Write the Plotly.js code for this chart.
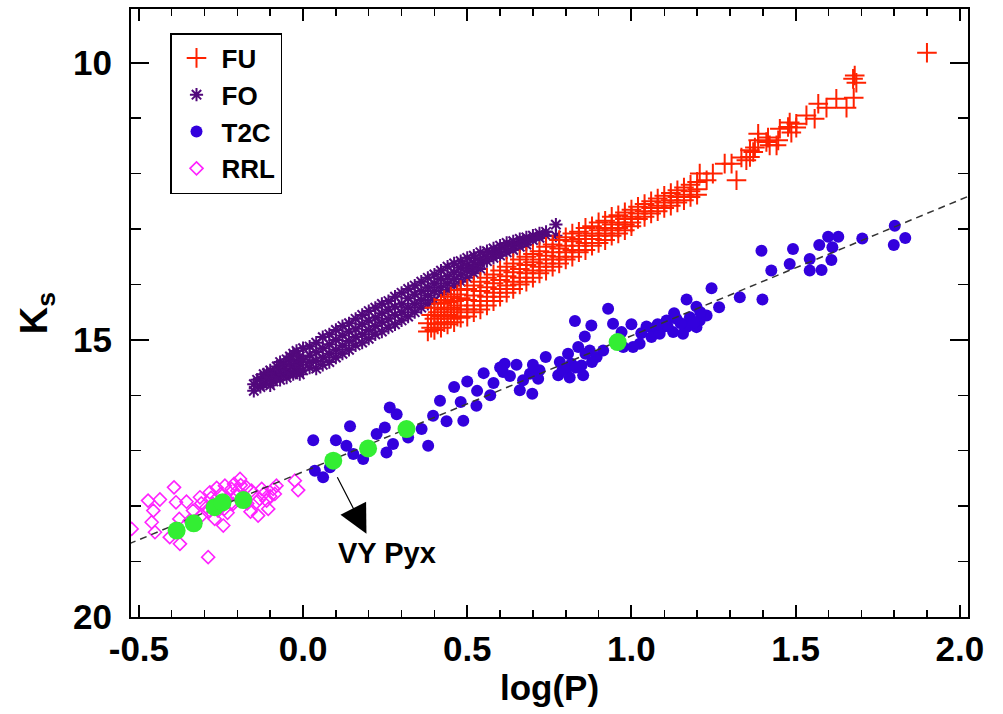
<!DOCTYPE html>
<html>
<head>
<meta charset="utf-8">
<script src="https://cdn.plot.ly/plotly-3.0.1.min.js"></script>
<style>html,body{margin:0;padding:0;background:#fff;}#chart{width:1003px;height:714px;}</style>
</head>
<body>
<div id="chart"></div>
<script>
// ---- FU (fundamental-mode classical Cepheids): [logP, Ks]
const fuPoints = [
[0.38,14.70],[0.38,14.85],[0.39,14.55],[0.39,14.78],[0.40,14.42],[0.40,14.62],[0.40,14.82],
[0.41,14.50],[0.41,14.72],[0.42,14.35],[0.42,14.58],[0.42,14.78],[0.43,14.45],[0.43,14.68],[0.43,14.28],
[0.44,14.55],[0.44,14.32],[0.44,14.72],[0.45,14.22],[0.45,14.42],[0.45,14.62],[0.46,14.50],[0.46,14.30],[0.46,14.68],
[0.47,14.18],[0.47,14.38],[0.47,14.58],[0.48,14.45],[0.48,14.25],[0.48,14.60],[0.48,14.10],
[0.50,14.08],[0.50,14.28],[0.50,14.45],[0.50,14.58],[0.52,14.02],[0.52,14.20],[0.52,14.38],[0.52,14.50],
[0.54,14.12],[0.54,13.95],[0.54,14.30],[0.54,14.45],[0.56,13.88],[0.56,14.05],[0.56,14.22],[0.56,14.38],
[0.58,13.98],[0.58,13.82],[0.58,14.15],[0.58,14.30],[0.60,13.75],[0.60,13.92],[0.60,14.08],[0.60,14.22],
[0.62,13.85],[0.62,13.68],[0.62,14.02],[0.62,14.15],[0.64,13.62],[0.64,13.78],[0.64,13.95],[0.64,14.08],
[0.66,13.72],[0.66,13.55],[0.66,13.88],[0.66,14.00],[0.68,13.50],[0.68,13.65],[0.68,13.80],[0.68,13.95],
[0.70,13.60],[0.70,13.45],[0.70,13.75],[0.70,13.88],[0.72,13.40],[0.72,13.55],[0.72,13.68],[0.72,13.80],
[0.74,13.48],[0.74,13.32],[0.74,13.62],[0.74,13.75],[0.76,13.28],[0.76,13.42],[0.76,13.55],[0.76,13.68],
[0.78,13.35],[0.78,13.20],[0.78,13.50],[0.78,13.62],[0.80,13.15],[0.80,13.30],[0.80,13.42],[0.80,13.55],
[0.82,13.22],[0.82,13.08],[0.82,13.38],[0.82,13.50],[0.84,13.05],[0.84,13.18],[0.84,13.30],[0.84,13.42],
[0.86,13.12],[0.86,12.98],[0.86,13.25],[0.86,13.38],[0.88,12.95],[0.88,13.08],[0.88,13.18],[0.88,13.30],
[0.90,13.02],[0.90,12.88],[0.90,13.12],[0.90,13.25],[0.92,12.85],[0.92,12.98],[0.92,13.08],[0.92,13.20],
[0.94,12.92],[0.94,12.78],[0.94,13.02],[0.94,13.12],[0.96,12.75],[0.96,12.88],[0.96,12.98],[0.96,13.08],
[0.98,12.82],[0.98,12.70],[0.98,12.92],[0.98,13.02],[1.00,12.65],[1.00,12.78],[1.00,12.88],[1.00,12.95],
[1.02,12.72],[1.02,12.60],[1.02,12.82],[1.04,12.55],[1.04,12.68],[1.04,12.78],[1.06,12.62],[1.06,12.50],[1.06,12.72],
[1.08,12.45],[1.08,12.58],[1.08,12.68],[1.10,12.52],[1.10,12.40],[1.10,12.62],[1.12,12.35],[1.12,12.48],[1.12,12.58],
[1.14,12.42],[1.14,12.30],[1.14,12.52],[1.16,12.25],[1.16,12.38],[1.16,12.48],[1.18,12.32],[1.18,12.20],[1.18,12.42],
[1.20,12.15],[1.20,12.28],[1.20,12.38],
[1.208,12.00],[1.229,12.12],[1.248,12.00],[1.284,11.82],[1.305,11.82],[1.320,12.12],[1.335,11.71],[1.350,11.76],
[1.361,11.58],[1.376,11.53],[1.386,11.28],[1.386,11.40],[1.416,11.35],[1.421,11.49],[1.447,11.40],[1.452,11.19],
[1.482,11.08],[1.487,11.26],[1.502,11.17],[1.533,10.95],[1.558,11.01],[1.569,10.74],[1.594,10.81],[1.624,10.65],
[1.655,10.81],[1.677,10.63],[1.675,10.29],[1.685,10.36],[1.680,10.23],[1.371,11.61],[1.361,11.70],[1.411,11.43],
[1.442,11.49],[1.477,11.16],[1.502,11.10],[1.900,9.82]
];
// ---- FO (first-overtone classical Cepheids)
const foPoints = [
[-0.15,15.80],[-0.15,15.92],[-0.14,15.72],[-0.13,15.85],[-0.13,15.70],[-0.12,15.62],[-0.12,15.80],[-0.11,15.72],[-0.11,15.60],
[-0.10,15.55],[-0.10,15.82],[-0.10,15.68],[-0.09,15.60],[-0.09,15.75],[-0.08,15.48],[-0.08,15.66],
[-0.07,15.55],[-0.07,15.72],[-0.07,15.40],[-0.06,15.45],[-0.06,15.62],[-0.05,15.35],[-0.05,15.55],[-0.05,15.68],
[-0.04,15.42],[-0.04,15.60],[-0.04,15.30],[-0.03,15.48],[-0.03,15.25],[-0.03,15.62],[-0.02,15.38],[-0.02,15.55],[-0.02,15.20],
[-0.01,15.30],[-0.01,15.45],[-0.01,15.62],[0.00,15.15],[0.00,15.36],[0.00,15.55],
[0.02,15.28],[0.02,15.12],[0.02,15.50],[0.02,15.40],[0.04,15.05],[0.04,15.22],[0.04,15.38],[0.04,15.52],
[0.06,15.15],[0.06,14.95],[0.06,15.32],[0.06,15.45],[0.08,14.90],[0.08,15.08],[0.08,15.25],[0.08,15.40],
[0.10,15.00],[0.10,14.82],[0.10,15.18],[0.10,15.32],[0.12,14.75],[0.12,14.92],[0.12,15.10],[0.12,15.25],
[0.14,14.85],[0.14,14.70],[0.14,15.02],[0.14,15.18],[0.16,14.62],[0.16,14.80],[0.16,14.95],[0.16,15.10],
[0.18,14.72],[0.18,14.55],[0.18,14.90],[0.18,15.05],[0.20,14.48],[0.20,14.65],[0.20,14.82],[0.20,14.98],
[0.22,14.60],[0.22,14.42],[0.22,14.75],[0.22,14.90],[0.24,14.35],[0.24,14.52],[0.24,14.68],[0.24,14.85],
[0.26,14.45],[0.26,14.30],[0.26,14.62],[0.26,14.78],[0.28,14.22],[0.28,14.40],[0.28,14.55],[0.28,14.72],
[0.30,14.35],[0.30,14.15],[0.30,14.50],[0.30,14.65],[0.32,14.08],[0.32,14.25],[0.32,14.42],[0.32,14.58],
[0.34,14.18],[0.34,14.02],[0.34,14.35],[0.34,14.50],[0.36,13.95],[0.36,14.12],[0.36,14.28],[0.36,14.42],
[0.38,14.05],[0.38,13.88],[0.38,14.20],[0.38,14.35],[0.40,13.82],[0.40,13.98],[0.40,14.12],[0.40,14.28],
[0.42,13.90],[0.42,13.75],[0.42,14.05],[0.42,14.18],[0.44,13.68],[0.44,13.85],[0.44,13.98],[0.44,14.10],
[0.46,13.78],[0.46,13.62],[0.46,13.90],[0.46,14.02],[0.48,13.58],[0.48,13.70],[0.48,13.82],[0.48,13.95],
[0.50,13.65],[0.50,13.52],[0.50,13.75],[0.50,13.88],[0.52,13.48],[0.52,13.60],[0.52,13.70],[0.52,13.80],
[0.54,13.55],[0.54,13.42],[0.54,13.62],[0.54,13.72],[0.56,13.40],[0.56,13.50],[0.56,13.58],
[0.58,13.35],[0.58,13.45],[0.58,13.52],[0.60,13.30],[0.60,13.40],[0.60,13.48],[0.62,13.25],[0.62,13.35],[0.62,13.42],
[0.64,13.22],[0.64,13.30],[0.64,13.38],[0.66,13.18],[0.66,13.25],[0.66,13.32],[0.68,13.15],[0.68,13.22],[0.68,13.28],
[0.70,13.12],[0.70,13.20],[0.72,13.08],[0.72,13.16],[0.74,13.05],[0.74,13.12],[0.77,12.92],[0.77,13.12]
];
// ---- T2C (type II Cepheids)
const t2cPoints = [
[1.396,13.39],[1.492,13.36],[1.599,13.14],[1.630,13.14],[1.572,13.29],[1.612,13.33],[1.703,13.17],[1.802,12.94],
[1.799,13.29],[1.834,13.16],[1.482,13.63],[1.543,13.54],[1.543,13.75],[1.579,13.74],[1.609,13.56],[1.426,13.75],
[1.244,14.07],[1.330,14.23],[1.399,14.27],[1.168,14.27],[1.198,14.40],[1.267,14.41],[1.229,14.56],[1.208,14.65],
[1.178,14.59],[1.168,14.77],[1.137,14.62],[1.107,14.65],[1.096,14.77],[1.066,14.80],[1.046,14.76],[1.061,14.95],
[1.086,14.89],[1.127,14.86],[1.157,14.89],[1.198,14.77],[1.000,14.72],[1.025,15.07],[1.005,15.13],[0.975,15.13],
[0.970,14.86],[0.944,14.71],[0.929,14.44],[0.878,14.74],[0.828,14.66],[0.858,14.94],[0.838,15.13],[0.873,15.19],
[0.894,15.31],[0.914,15.19],[0.807,15.25],[0.782,15.40],[0.817,15.43],[0.739,15.31],[0.802,15.52],[0.777,15.64],
[0.812,15.68],[0.853,15.64],[0.716,15.70],[0.691,15.61],[0.670,15.73],[0.660,15.91],[0.698,15.97],[0.614,15.43],
[0.609,15.58],[0.848,15.46],[1.11,14.75],[1.15,14.70],[1.19,14.68],[1.08,14.72],[1.03,14.88],[1.21,14.50],[1.13,14.52],
[0.70,15.45],[0.72,15.55],[0.86,15.25],[0.88,15.40],[0.79,15.55],[0.83,15.50],
[0.46,15.85],[0.50,15.75],[0.53,15.92],[0.55,15.60],[0.58,15.78],[0.60,15.50],[0.63,15.65],[0.48,16.12],[0.65,15.45],[0.57,16.00],
[0.031,16.81],[0.100,16.81],[0.143,16.56],[0.036,17.36],[0.061,17.48],[0.082,17.30],[0.132,16.91],[0.153,17.06],
[0.183,17.15],[0.224,16.70],[0.249,16.58],[0.254,17.03],[0.274,16.88],[0.264,16.22],[0.285,16.34],[0.320,16.76],
[0.361,16.61],[0.381,16.91],[0.396,16.37],[0.437,16.47],[0.488,16.46],[0.528,16.19],[0.417,16.10]
];
// ---- RRL (RR Lyrae)
const rrlPoints = [
[-0.393,17.66],[-0.472,17.90],[-0.436,17.88],[-0.456,18.08],[-0.461,18.29],[-0.451,18.47],[-0.387,17.93],[-0.355,17.92],
[-0.377,18.23],[-0.375,18.68],[-0.314,17.84],[-0.294,18.02],[-0.309,18.17],[-0.284,17.75],[-0.263,17.67],[-0.238,17.63],
[-0.218,17.69],[-0.233,17.87],[-0.192,17.51],[-0.172,17.66],[-0.157,17.72],[-0.126,17.69],[-0.132,17.87],[-0.142,17.93],
[-0.137,18.17],[-0.106,18.05],[-0.111,17.90],[-0.091,17.69],[-0.081,17.63],[-0.086,17.78],[-0.025,17.54],[-0.015,17.71],
[-0.289,18.92],[-0.243,18.35],[-0.259,18.08],[-0.274,17.96],[-0.213,17.96],[-0.203,17.81],[-0.335,18.08],[-0.345,18.26],
[-0.269,18.23],[-0.406,18.56],[-0.522,18.41],
[-0.28,17.85],[-0.25,17.78],[-0.22,17.95],[-0.20,17.72],[-0.24,18.05],[-0.26,17.98],[-0.18,17.82],[-0.23,18.12],
[-0.29,18.10],[-0.31,17.95],[-0.21,17.60],[-0.17,17.95],[-0.16,18.10],[-0.12,17.78],[-0.10,17.82],[-0.19,17.62]
];
// ---- highlighted stars (green)
const greenX = [-0.385,-0.333,-0.269,-0.245,-0.182,0.092,0.198,0.315,0.958];
const greenY = [18.44,18.31,18.02,17.93,17.89,17.18,16.96,16.61,15.04];
// ---- fitted relation (dashed)
const fitX = [-0.53, 2.03];
const fitY = [18.68, 12.40];
// ---- axis ticks
const xTicks = [-0.5, 0.0, 0.5, 1.0, 1.5, 2.0];
const xTickText = ['-0.5','0.0','0.5','1.0','1.5','2.0'];
const yTicks = [10, 15, 20];
const yTickText = ['10','15','20'];
// ---- annotation (VY Pyx)
const vyLabel = {text: 'VY Pyx', x: 0.255, y: 18.84};
const vyArrow = {tipX: 0.193, tipY: 18.50, tailX: 0.102, tailY: 17.45};

const col = a => a.map(p => p[0]);
const colY = a => a.map(p => p[1]);

const FONT = 'Liberation Sans, Arial, Helvetica, sans-serif';

const traces = [
  {x: col(foPoints), y: colY(foPoints), type: 'scatter', mode: 'markers', name: 'FO', legendrank: 2,
   marker: {symbol: 'asterisk-open', size: 11, color: '#52087c', line: {color: '#52087c', width: 2}}},
  {x: col(fuPoints), y: colY(fuPoints), type: 'scatter', mode: 'markers', name: 'FU', legendrank: 1,
   marker: {symbol: 'cross-thin-open', size: 14, color: '#ff2200', line: {color: '#ff2200', width: 2}}},
  {x: col(t2cPoints), y: colY(t2cPoints), type: 'scatter', mode: 'markers', name: 'T2C', legendrank: 3,
   marker: {symbol: 'circle', size: 12, color: '#3300dd'}},
  {x: col(rrlPoints), y: colY(rrlPoints), type: 'scatter', mode: 'markers', name: 'RRL', legendrank: 4,
   marker: {symbol: 'diamond-open', size: 10, color: '#ff22ff', line: {color: '#ff22ff', width: 1.6}}},
  {x: fitX, y: fitY, type: 'scatter', mode: 'lines', showlegend: false,
   line: {color: '#333333', width: 1.5, dash: '7px,5px'}},
  {x: greenX, y: greenY, type: 'scatter', mode: 'markers', showlegend: false,
   marker: {symbol: 'circle', size: 18, color: '#33ee33'}}
];

const layout = {
  width: 1003, height: 714,
  margin: {l: 131, r: 35, t: 9, b: 97, pad: 0},
  paper_bgcolor: '#ffffff', plot_bgcolor: '#ffffff',
  font: {family: FONT, size: 30, color: '#000', weight: 'bold'},
  showlegend: true,
  legend: {x: 0.0466, y: 0.9605, xanchor: 'left', yanchor: 'top', bgcolor: '#fff',
           bordercolor: '#000', borderwidth: 1.5, font: {family: FONT, size: 26, color: '#000', weight: 'bold'},
           tracegroupgap: 0, itemwidth: 40},
  xaxis: {range: [-0.524, 2.025], tickmode: 'array', tickvals: xTicks, ticktext: xTickText,
          ticks: 'inside', ticklen: 12, tickwidth: 2, tickcolor: '#000',
          showline: true, linewidth: 2, linecolor: '#000', mirror: 'ticks',
          showgrid: false, zeroline: false, ticklabelstandoff: 0,
          tickfont: {family: FONT, size: 35, weight: 'bold'},
          minor: {tickmode: 'linear', tick0: 0, dtick: 0.1, ticks: 'inside', ticklen: 7, tickwidth: 1.5, tickcolor: '#000', showgrid: false},
          title: {text: 'log(P)', font: {family: FONT, size: 35, weight: 'bold'}, standoff: 8}},
  yaxis: {range: [20, 9.03], tickmode: 'array', tickvals: yTicks, ticktext: yTickText,
          ticks: 'inside', ticklen: 18, tickwidth: 2, tickcolor: '#000',
          showline: true, linewidth: 2, linecolor: '#000', mirror: 'ticks',
          showgrid: false, zeroline: false, ticklabelstandoff: 10,
          tickfont: {family: FONT, size: 35, weight: 'bold'},
          minor: {tickmode: 'linear', tick0: 0, dtick: 1, ticks: 'inside', ticklen: 10, tickwidth: 1.5, tickcolor: '#000', showgrid: false},
          title: {text: 'K<sub>s</sub>', font: {family: FONT, size: 38, weight: 'bold'}, standoff: 14}},
  annotations: [
    {x: vyArrow.tipX, y: vyArrow.tipY, ax: vyArrow.tailX, ay: vyArrow.tailY, axref: 'x', ayref: 'y',
     xref: 'x', yref: 'y', text: '', showarrow: true, arrowhead: 2, arrowsize: 4.8, arrowwidth: 1.2, arrowcolor: '#000'},
    {x: vyLabel.x, y: vyLabel.y, xref: 'x', yref: 'y', text: vyLabel.text, showarrow: false,
     font: {family: FONT, size: 29, color: '#000', weight: 'bold'}}
  ]
};

Plotly.newPlot('chart', traces, layout, {staticPlot: true, displayModeBar: false});
</script>
</body>
</html>
